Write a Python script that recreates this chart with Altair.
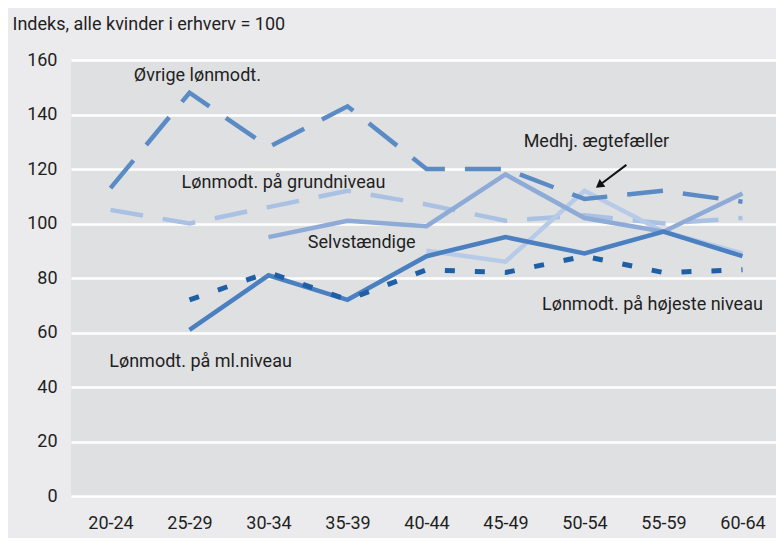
import altair as alt
import pandas as pd

ages = ["20-24", "25-29", "30-34", "35-39", "40-44", "45-49", "50-54", "55-59", "60-64"]

ovrige = [113, 148, 128, 143, 120, 120, 109, 112, 108]
grund = [105, 100, 106, 112, 107, 101, 103, 100, 102]
medhj = [None, None, None, None, 90, 86, 112, 97, 89]
selv = [None, None, 95, 101, 99, 118, 102, 97, 111]
ml = [None, 61, 81, 72, 88, 95, 89, 97, 88]
hoj = [None, 72, 82, 72, 83, 82, 88, 82, 83]

series_names = ["Lønmodt. på grundniveau", "Medhj. ægtefæller", "Selvstændige",
                "Øvrige lønmodt.", "Lønmodt. på ml.niveau", "Lønmodt. på højeste niveau"]
series_values = [grund, medhj, selv, ovrige, ml, hoj]
series_colors = ["#a9c1e3", "#b7cbe9", "#8eaad6", "#5b8bc5", "#4a7fc0", "#1e5fa5"]
series_dash = [[33, 20], [], [], [36, 20], [], [10, 20]]
series_width = [4.5, 4.5, 4.5, 4.5, 4.5, 5]

label_texts = ["Øvrige lønmodt.", "Lønmodt. på grundniveau", "Medhj. ægtefæller",
               "Selvstændige", "Lønmodt. på højeste niveau", "Lønmodt. på ml.niveau"]
label_x = [1.10, 2.19, 6.15, 3.18, 6.86, 1.14]
label_y = [154, 115, 130, 93, 70, 49]

arrow_tail = (6.53, 121.5)
arrow_head = (6.20, 114.3)

FONT = "Roboto"
FS = 18

label_expr = "[" + ",".join("'%s'" % a for a in ages) + "][datum.value]"

x_scale = alt.Scale(domain=[-0.5, 8.424], nice=False, zero=False)
y_scale = alt.Scale(domain=[0, 160], nice=False)

x_axis = alt.Axis(values=list(range(len(ages))), labelExpr=label_expr, grid=False,
                  domain=False, ticks=False, labelPadding=18, labelFontSize=FS,
                  labelColor="#1f1f1f", labelFont=FONT, title=None)
y_axis = alt.Axis(values=list(range(0, 161, 20)), grid=True, gridColor="white",
                  gridWidth=2.5, domain=False, ticks=False, labelPadding=14,
                  labelFontSize=FS, labelColor="#1f1f1f", labelFont=FONT,
                  title="Indeks, alle kvinder i erhverv = 100", titleAngle=0,
                  titleX=-59, titleY=-36, titleAlign="left", titleBaseline="middle",
                  titleFontSize=FS, titleFontWeight="normal", titleColor="#1f1f1f",
                  titleFont=FONT)

X = alt.X("x:Q", scale=x_scale, axis=x_axis)

layers = []
for i, (name, vals) in enumerate(zip(series_names, series_values)):
    rows = [{"x": j, "y": v} for j, v in enumerate(vals) if v is not None]
    df = pd.DataFrame(rows)
    mk = dict(color=series_colors[i], strokeWidth=series_width[i], strokeCap="butt",
              strokeJoin="miter")
    if series_dash[i]:
        mk["strokeDash"] = series_dash[i]
    layers.append(alt.Chart(df).mark_line(**mk).encode(
        x=X, y=alt.Y("y:Q", scale=y_scale, axis=y_axis)))

labels_df = pd.DataFrame({"t": label_texts, "x": label_x, "y": label_y})
labels = alt.Chart(labels_df).mark_text(font=FONT, fontSize=FS, color="#1f1f1f",
                                        align="center", baseline="middle").encode(
    x=X, y=alt.Y("y:Q", scale=y_scale, axis=y_axis), text="t:N")

arrow_df = pd.DataFrame({"x": [arrow_tail[0]], "y": [arrow_tail[1]],
                         "x2": [arrow_head[0]], "y2": [arrow_head[1]]})
arrow_line = alt.Chart(arrow_df).mark_rule(color="#111111", strokeWidth=2).encode(
    x=X, y=alt.Y("y:Q", scale=y_scale, axis=y_axis), x2="x2:Q", y2="y2:Q")
head_df = pd.DataFrame({"x": [arrow_head[0]], "y": [arrow_head[1]]})
arrow_tip = alt.Chart(head_df).mark_point(shape="triangle", filled=True, size=90,
                                          angle=233, color="#111111", opacity=1).encode(
    x=X, y=alt.Y("y:Q", scale=y_scale, axis=y_axis))

chart = alt.layer(*layers, labels, arrow_line, arrow_tip).properties(
    width=705, height=436,
    autosize=alt.AutoSizeParams(type="none"),
    padding={"left": 63, "top": 52, "right": 0, "bottom": 42},
    background="#ebebed",
).configure_view(fill="#dfe0e2", strokeWidth=0)

chart.save("out.html", embed_options={"renderer": "svg", "actions": False})
